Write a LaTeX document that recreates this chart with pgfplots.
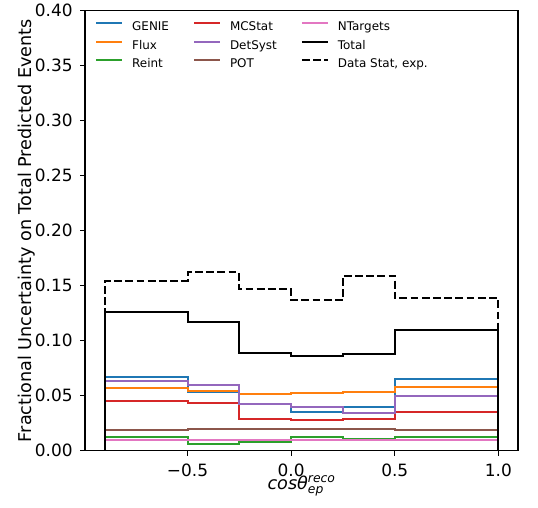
\documentclass[border=0pt]{standalone}
\usepackage{fontspec}
\setmainfont{DejaVu Sans}
\usepackage{amsmath}
\usepackage{pgfplots}
\pgfplotsset{compat=1.18}
\definecolor{c0}{HTML}{1F77B4}
\definecolor{c1}{HTML}{FF7F0E}
\definecolor{c2}{HTML}{2CA02C}
\definecolor{c3}{HTML}{D62728}
\definecolor{c4}{HTML}{9467BD}
\definecolor{c5}{HTML}{8C564B}
\definecolor{c6}{HTML}{E377C2}
\begin{document}
\begin{tikzpicture}
\begin{axis}[
  at={(0,0)}, anchor=south west,
  scale only axis, width=433bp, height=440bp,
  xmin=-0.995, xmax=1.095, ymin=0, ymax=0.4,
  axis line style={line width=1.1bp},
  every tick/.style={line width=1.1bp, black},
  tick align=outside, major tick length=4.9bp,
  xtick pos=lower, ytick pos=left,
  xtick={-0.5,0,0.5,1}, xticklabels={−0.5,0.0,0.5,1.0},
  ytick={0,0.05,0.1,0.15,0.2,0.25,0.3,0.35,0.4},
  yticklabels={0.00,0.05,0.10,0.15,0.20,0.25,0.30,0.35,0.40},
  ticklabel style={font=\fontsize{17}{20}\selectfont},
  xticklabel style={yshift=-5bp},
  yticklabel style={xshift=-4bp},
  label style={font=\fontsize{17.7}{20}\selectfont},
  ylabel={Fractional Uncertainty on Total Predicted Events},
  ylabel style={at={(axis description cs:-0.1235,0.5)}, anchor=base, rotate=0},
  xlabel={\textit{cosθ}$^{\text{\itshape reco}}_{\text{\itshape ep}}$},
  xlabel style={at={(axis description cs:0.5,-0.0875)}, anchor=base, inner sep=0pt},
  legend columns=3,
  legend cell align=left,
  legend image code/.code={\draw[#1] (0bp,4.5bp) -- (26bp,4.5bp);},
  legend style={draw=none, fill=none, at={(axis description cs:0,1)}, anchor=north west,
    xshift=10bp, yshift=-11bp, inner sep=0pt, row sep=6.3bp,
    font=\fontsize{12}{14}\selectfont,
    nodes={inner sep=0pt, text height=9bp, text depth=3bp},
    /tikz/every odd column/.append style={column sep=9bp},
    /tikz/every even column/.append style={column sep=24bp}},
  every axis plot/.append style={line width=2bp, const plot mark right},
]
% GENIE
\addplot[c0, forget plot] coordinates {(-0.9,0) (-0.5,0.0672) (-0.25,0.0530) (0,0.0421) (0.25,0.0351) (0.5,0.0394) (1.0,0.0651) (1.0,0)};
% Flux
\addplot[c1, forget plot] coordinates {(-0.9,0) (-0.5,0.0569) (-0.25,0.0542) (0,0.0512) (0.25,0.0527) (0.5,0.0536) (1.0,0.0581) (1.0,0)};
% Reint
\addplot[c2, forget plot] coordinates {(-0.9,0) (-0.5,0.0123) (-0.25,0.0062) (0,0.0080) (0.25,0.0126) (0.5,0.0102) (1.0,0.0123) (1.0,0)};
% MCStat
\addplot[c3, forget plot] coordinates {(-0.9,0) (-0.5,0.0454) (-0.25,0.0430) (0,0.0290) (0.25,0.0281) (0.5,0.0287) (1.0,0.0348) (1.0,0)};
% DetSyst
\addplot[c4, forget plot] coordinates {(-0.9,0) (-0.5,0.0636) (-0.25,0.0600) (0,0.0424) (0.25,0.0400) (0.5,0.0345) (1.0,0.0497) (1.0,0)};
% POT
\addplot[c5, forget plot] coordinates {(-0.9,0) (-0.5,0.0187) (-0.25,0.0196) (0,0.0199) (0.25,0.0199) (0.5,0.0193) (1.0,0.0187) (1.0,0)};
% NTargets
\addplot[c6, forget plot] coordinates {(-0.9,0) (-0.5,0.0096) (-0.25,0.0096) (0,0.0096) (0.25,0.0100) (0.5,0.0096) (1.0,0.0096) (1.0,0)};
% Total
\addplot[black, forget plot] coordinates {(-0.9,0) (-0.5,0.1257) (-0.25,0.1169) (0,0.0884) (0.25,0.0863) (0.5,0.0881) (1.0,0.1100) (1.0,0)};
% Data Stat, exp.
\addplot[black, dash pattern=on 7.8bp off 3.4bp, forget plot] coordinates {(-0.9,0) (-0.5,0.1543) (-0.25,0.1622) (0,0.1470) (0.25,0.1367) (0.5,0.1592) (1.0,0.1385) (1.0,0)};
% legend, filled row by row
\addlegendimage{c0, line width=2bp}\addlegendentry{GENIE}
\addlegendimage{c3, line width=2bp}\addlegendentry{MCStat}
\addlegendimage{c6, line width=2bp}\addlegendentry{NTargets}
\addlegendimage{c1, line width=2bp}\addlegendentry{Flux}
\addlegendimage{c4, line width=2bp}\addlegendentry{DetSyst}
\addlegendimage{black, line width=2bp}\addlegendentry{Total}
\addlegendimage{c2, line width=2bp}\addlegendentry{Reint}
\addlegendimage{c5, line width=2bp}\addlegendentry{POT}
\addlegendimage{black, line width=2bp, dash pattern=on 7.8bp off 3.4bp}\addlegendentry{Data Stat, exp.}
\end{axis}
\pgfresetboundingbox
\path (-85bp,-57.3bp) rectangle (453bp,450.7bp);
\end{tikzpicture}
\end{document}
